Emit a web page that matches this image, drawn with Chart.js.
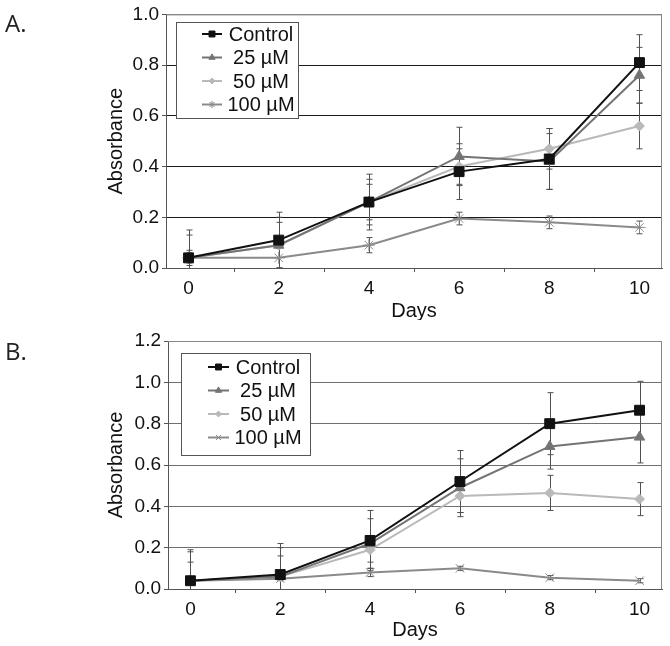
<!DOCTYPE html>
<html>
<head>
<meta charset="utf-8">
<script src="https://cdn.jsdelivr.net/npm/chart.js@4"></script>
<style>
  body { margin: 0; background: #fff; width: 670px; height: 646px; position: relative; overflow: hidden; }
  canvas { position: absolute; left: 0; }
  .tag { position: absolute; left: 5px; font: 24px "Open Sans", sans-serif; line-height: 1; color: #222; }
</style>
</head>
<body>
<canvas id="chartA" width="670" height="320" style="top:0"></canvas>
<canvas id="chartB" width="670" height="326" style="top:320px"></canvas>
<div class="tag" style="top:11px">A.</div>
<div class="tag" style="top:339px">B.</div>
<script>
const days = [0, 2, 4, 6, 8, 10];
const seriesLabels = ['Control', '25 µM', '50 µM', '100 µM'];

// panel A
const aControl = [0.04, 0.11, 0.26, 0.38, 0.43, 0.81];
const a25 = [0.04, 0.09, 0.26, 0.44, 0.42, 0.76];
const a50 = [0.04, 0.09, 0.26, 0.40, 0.47, 0.56];
const a100 = [0.04, 0.04, 0.09, 0.195, 0.18, 0.16];
const aControlErr = [0.11, 0.11, 0.11, 0.11, 0.12, 0.11];
const a25Err = [0.09, 0.11, 0.09, 0.115, 0.11, 0.11];
const a50Err = [0.03, 0.09, 0.07, 0.07, 0.08, 0.09];
const a100Err = [0.02, 0.04, 0.03, 0.025, 0.025, 0.025];
const aTicks = [0, 0.2, 0.4, 0.6, 0.8, 1.0];

// panel B
const bControl = [0.04, 0.07, 0.235, 0.52, 0.80, 0.865];
const b25 = [0.04, 0.06, 0.22, 0.49, 0.69, 0.735];
const b50 = [0.04, 0.06, 0.19, 0.45, 0.465, 0.435];
const b100 = [0.04, 0.05, 0.08, 0.10, 0.055, 0.04];
const bControlErr = [0.15, 0.15, 0.145, 0.15, 0.15, 0.14];
const b25Err = [0.14, 0.14, 0.12, 0.14, 0.11, 0.125];
const b50Err = [0.09, 0.10, 0.06, 0.08, 0.085, 0.08];
const b100Err = [0.01, 0.01, 0.02, 0.01, 0.01, 0.01];
const bTicks = [0, 0.2, 0.4, 0.6, 0.8, 1.0, 1.2];

const FONT = "'Liberation Sans', Arial, sans-serif";

// error bars with caps, drawn under the markers and clipped to the plot
const errorBars = {
  id: 'errorBars',
  beforeDatasetsDraw(chart) {
    const { ctx, chartArea: a, scales: { x, y } } = chart;
    ctx.save();
    ctx.beginPath();
    ctx.rect(a.left, a.top, a.right - a.left, a.bottom - a.top);
    ctx.clip();
    ctx.strokeStyle = '#505050';
    ctx.lineWidth = 1;
    chart.data.datasets.forEach(ds => {
      ds.data.forEach((p, i) => {
        const e = ds.errors[i];
        const px = Math.round(x.getPixelForValue(p.x)) + 0.5;
        const top = y.getPixelForValue(p.y + e);
        const bot = y.getPixelForValue(p.y - e);
        ctx.beginPath();
        ctx.moveTo(px, top); ctx.lineTo(px, bot);
        ctx.moveTo(px - 3, top); ctx.lineTo(px + 3, top);
        ctx.moveTo(px - 3, bot); ctx.lineTo(px + 3, bot);
        ctx.stroke();
      });
    });
    ctx.restore();
  }
};

// plot frame and the small x tick marks between the day labels
const frame = {
  id: 'frame',
  beforeDatasetsDraw(chart) {
    const { ctx, chartArea: a, scales: { x } } = chart;
    ctx.save();
    ctx.strokeStyle = '#888';
    ctx.lineWidth = 1;
    ctx.beginPath();
    ctx.moveTo(a.left, a.top + 0.5); ctx.lineTo(a.right - 0.5, a.top + 0.5); ctx.lineTo(a.right - 0.5, a.bottom);
    ctx.stroke();
    ctx.strokeStyle = '#555';
    ctx.beginPath();
    for (let i = 1; i < days.length; i++) {
      const px = Math.round(x.getPixelForValue((days[i - 1] + days[i]) / 2)) + 0.5;
      ctx.moveTo(px, a.bottom); ctx.lineTo(px, a.bottom + 4);
    }
    ctx.stroke();
    ctx.restore();
  }
};

// boxed legend inside the plot
const boxLegend = {
  id: 'boxLegend',
  afterDraw(chart, args, o) {
    const ctx = chart.ctx;
    ctx.save();
    ctx.fillStyle = '#fff';
    ctx.fillRect(o.x, o.y, o.w, o.h);
    ctx.strokeStyle = '#555';
    ctx.lineWidth = 1;
    ctx.strokeRect(o.x + 0.5, o.y + 0.5, o.w, o.h);
    ctx.font = '20px ' + FONT;
    ctx.textAlign = 'center';
    ctx.textBaseline = 'middle';
    chart.data.datasets.forEach((ds, i) => {
      const yy = o.y + o.first + i * o.step;
      ctx.strokeStyle = ds.borderColor;
      ctx.fillStyle = ds.borderColor;
      ctx.lineWidth = 2;
      ctx.beginPath();
      ctx.moveTo(o.lineX, yy); ctx.lineTo(o.lineX + o.lineW, yy);
      ctx.stroke();
      ctx.lineWidth = 1;
      Chart.helpers.drawPoint(ctx, { pointStyle: ds.pointStyle, rotation: 0, radius: ds.pointRadius * 0.6, borderWidth: 1 },
        o.lineX + o.lineW / 2, yy);
      ctx.fillStyle = '#111';
      ctx.fillText(ds.label, o.textX, yy + 1);
    });
    ctx.restore();
  }
};

function makeChart(id, series, errors, yTicks, cfg) {
  const colors = ['#111111', '#747474', '#b9b9b9', '#8a8a8a'];
  const styles = ['rect', 'triangle', 'rectRot', cfg.lastMarker];
  const radii = [7, 6, 5, 6];
  const datasets = series.map((vals, k) => ({
    label: seriesLabels[k],
    data: days.map((d, i) => ({ x: d, y: vals[i] })),
    errors: errors[k],
    borderColor: colors[k],
    backgroundColor: colors[k],
    borderWidth: 2,
    pointStyle: styles[k],
    pointRadius: radii[k],
    pointBorderWidth: 1,
    tension: 0
  }));
  const yMax = yTicks[yTicks.length - 1];
  return new Chart(document.getElementById(id), {
    type: 'line',
    data: { datasets },
    options: {
      responsive: false,
      animation: false,
      layout: { padding: { left: 104, right: cfg.right, top: cfg.top, bottom: cfg.bottom } },
      plugins: {
        legend: { display: false },
        tooltip: { enabled: false },
        boxLegend: cfg.legend
      },
      scales: {
        x: {
          type: 'linear',
          min: -0.5,
          max: 10.5,
          afterBuildTicks: s => { s.ticks = days.map(v => ({ value: v })); },
          afterFit: s => { s.height = cfg.xHeight; },
          grid: { drawOnChartArea: false, drawTicks: false },
          border: { color: '#555' },
          ticks: { color: '#111', padding: 9, font: { size: 19, family: FONT } },
          title: { display: true, text: 'Days', color: '#111', padding: 0, font: { size: 20, family: FONT } }
        },
        y: {
          min: 0,
          max: yMax,
          afterBuildTicks: s => { s.ticks = yTicks.map(v => ({ value: v })); },
          afterFit: s => { s.width = cfg.yWidth; },
          grid: {
            color: c => (c.tick && c.tick.value === yMax) ? '#888' : cfg.gridColor,
            tickColor: '#555',
            tickLength: 4
          },
          border: { color: '#555' },
          ticks: { color: '#111', padding: 3, font: { size: 19, family: FONT }, callback: v => v.toFixed(1) },
          title: { display: true, text: 'Absorbance', color: '#111', padding: 0, font: { size: 20, family: FONT } }
        }
      }
    },
    plugins: [frame, errorBars, boxLegend]
  });
}

makeChart('chartA',
  [aControl, a25, a50, a100],
  [aControlErr, a25Err, a50Err, a100Err],
  aTicks,
  { right: 8, top: 13, bottom: -3, xHeight: 55, yWidth: 62, gridColor: '#1a1a1a', lastMarker: 'star',
    legend: { x: 176, y: 22, w: 122, h: 96, first: 12, step: 23.5, lineX: 202, lineW: 20, textX: 261 } });

makeChart('chartB',
  [bControl, b25, b50, b100],
  [bControlErr, b25Err, b50Err, b100Err],
  bTicks,
  { right: 7, top: 21, bottom: 4, xHeight: 53, yWidth: 64, gridColor: '#707070', lastMarker: 'crossRot',
    legend: { x: 181, y: 33, w: 129, h: 102, first: 14, step: 23.5, lineX: 208, lineW: 21, textX: 268 } });
</script>
</body>
</html>
